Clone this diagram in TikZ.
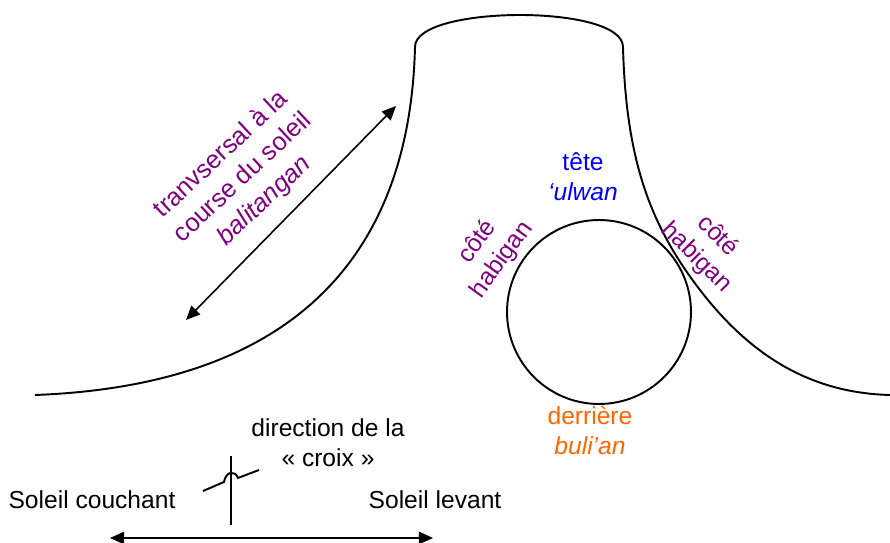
\documentclass[tikz,border=0pt]{standalone}
\usepackage{fontspec}
\setmainfont{Liberation Sans}
\usetikzlibrary{arrows.meta}
\definecolor{labpurple}{HTML}{800080}
\definecolor{labblue}{HTML}{0000FF}
\definecolor{laborange}{HTML}{FF6600}

\begin{document}
\begin{tikzpicture}[x=0.02cm,y=-0.02cm,
    outline/.style={line width=1.1pt},
    lbl/.style={align=center,inner sep=0pt,font=\fontsize{14}{17}\selectfont},
    dbl/.style={line width=0.9pt,{Triangle[length=8pt,width=7pt]}-{Triangle[length=8pt,width=7pt]}}]
    \useasboundingbox (0,0) rectangle (890,543);
    % the mountain outline
    \draw[outline] (35,395) .. controls (300,385) and (410,250) .. (415,47)
      .. controls (415,25) and (470,15) .. (520,15)
      .. controls (570,15) and (623,25) .. (623,47)
      .. controls (626,160) and (650,225) .. (700,290)
      .. controls (750,355) and (810,393) .. (890,395);
    % the wheel
    \node[draw,circle,outline,inner sep=0pt,minimum size=3.68cm] (wheel) at (599,312) {};
    % the cross
    \draw[outline] (231,456) -- (231,525);
    \draw[outline] (203,491) -- (224,482) .. controls (226,471) and (235,470) .. (238,478) -- (259,470);
    % arrows
    \coordinate (slopelow) at (186,320);
    \coordinate (slopehigh) at (396,106);
    \draw[dbl] (slopelow) -- (slopehigh);
    \coordinate (west) at (110,538);
    \coordinate (east) at (433,538);
    \draw[dbl] (west) -- (east);
    % labels
    \node[lbl,text=labpurple,rotate=43,font=\fontsize{14.5}{18}\selectfont] (transv) at (243,178) {tranvsersal à la\\course du soleil\\\textit{balitangan}};
    \node[lbl,text=labblue] (head) at (583,177) {tête\\\textit{‘ulwan}};
    \node[lbl,text=laborange] (back) at (590,431) {derrière\\\textit{buli’an}};
    \node[lbl,text=labpurple,rotate=54] (sideL) at (490,251) {côté\\habigan};
    \node[lbl,text=labpurple,rotate=-45] (sideR) at (707,247) {côté\\habigan};
    \node[lbl] (cross) at (328,443) {direction de la\\« croix »};
    \node[lbl] (sunset) at (92,500) {Soleil couchant};
    \node[lbl] (sunrise) at (435,500) {Soleil levant};
\end{tikzpicture}
\end{document}
